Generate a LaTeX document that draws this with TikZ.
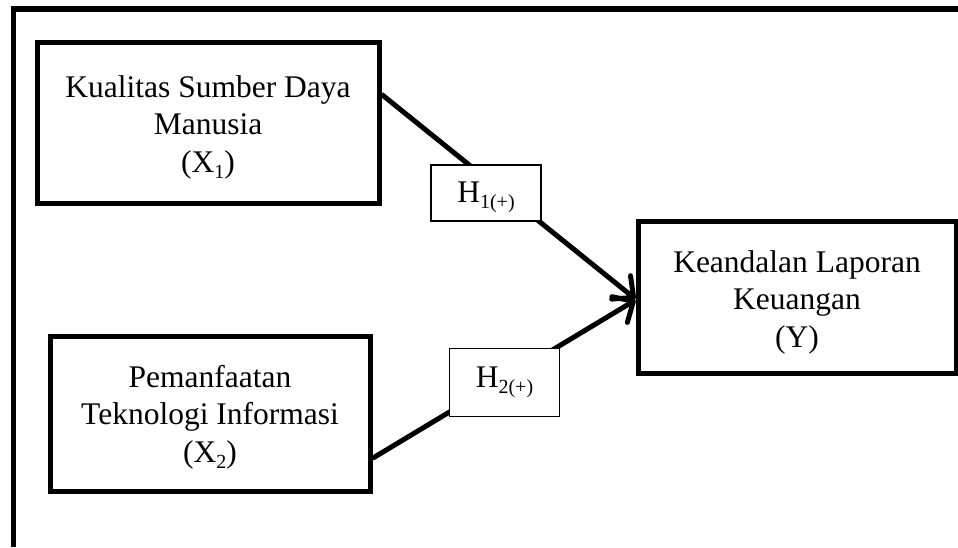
\documentclass[tikz,border=0pt]{standalone}
\usepackage{fontspec}
\setmainfont{Liberation Serif}
\usetikzlibrary{arrows.meta,calc}
\newcommand{\topstrut}[1]{\rule{0pt}{#1}}
\newcommand{\botstrut}[1]{\rule[-#1]{0pt}{0pt}}
\newcommand{\mysubs}[1]{\raisebox{-6pt}{\fontsize{20}{20}\selectfont #1}}
\begin{document}
\begin{tikzpicture}[x=1pt,y=-1pt,
  varbox/.style={draw,line width=5pt,align=center,inner sep=0pt,
    font=\fontsize{31.5}{37.5}\selectfont},
  hbox/.style={draw,line width=1.5pt,fill=white,inner sep=0pt,
    minimum width=110pt,font=\fontsize{31.5}{37}\selectfont},
  link/.style={line width=5pt,-{Straight Barb[length=16pt,width=30pt,round]}},
  frame/.style={line width=5.5pt,line join=miter}]
\useasboundingbox (0,0) rectangle (958,547);
\draw[frame] (13.5,547) -- (13.5,9) -- (958,9);
\node[varbox,minimum width=342pt,minimum height=161pt] (b1) at (208,122.5)
  {\topstrut{32pt}Kualitas Sumber Daya\\Manusia\\(X\mysubs{1})\botstrut{8pt}};
\node[varbox,minimum width=320pt,minimum height=155pt] (b2) at (210,413.5)
  {\topstrut{31pt}Pemanfaatan\\Teknologi Informasi\\(X\mysubs{2})\botstrut{9pt}};
\node[varbox,minimum width=318pt,minimum height=152pt] (y) at (797,297)
  {\topstrut{32pt}Keandalan Laporan\\Keuangan\\(Y)\botstrut{7pt}};
\draw[link] ($(b1.north east)!0.33!(b1.south east)$) -- ($(y.west)+(0,2)$);
\draw[link] ($(b2.north east)!0.78!(b2.south east)$) -- ($(y.west)+(0,3)$);
\node[hbox,minimum height=56pt] (h1) at (486,193) {\topstrut{30pt}H\mysubs{1(+)}\botstrut{10.5pt}};
\node[hbox,minimum height=68pt] (h2) at (504.5,382.5) {\topstrut{26pt}H\mysubs{2(+)}\botstrut{16.4pt}};
\end{tikzpicture}
\end{document}
